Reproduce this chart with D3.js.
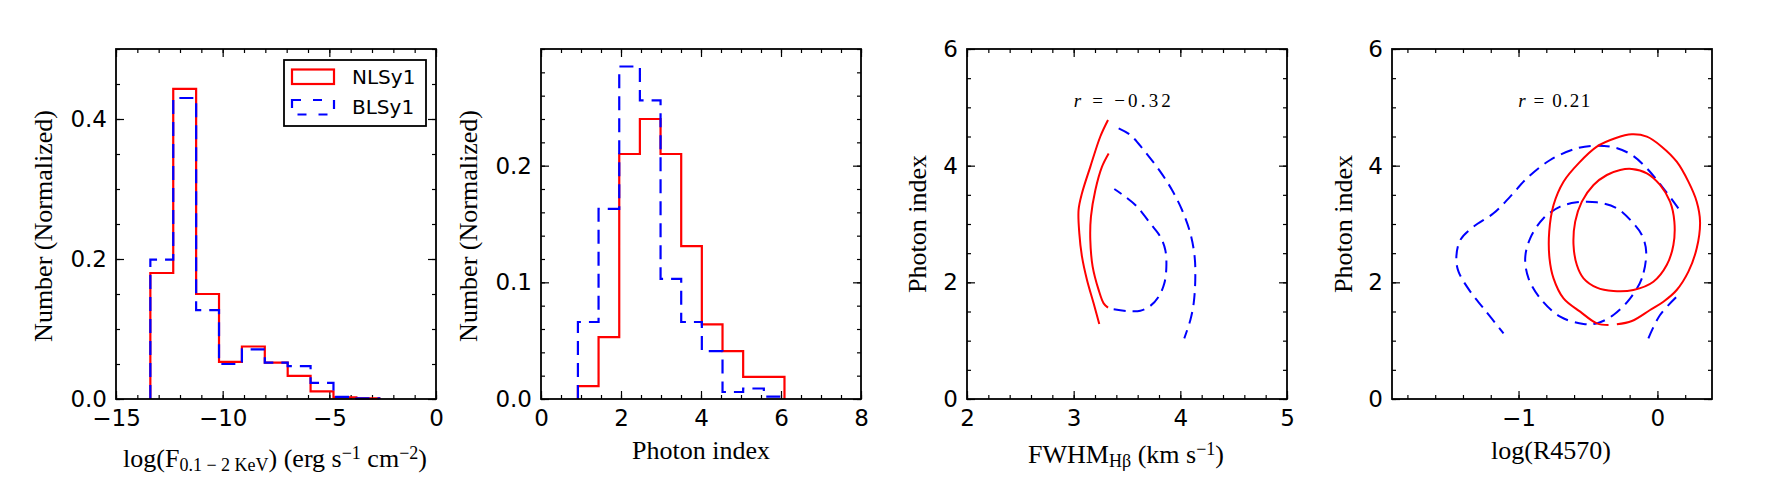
<!DOCTYPE html>
<html><head><meta charset="utf-8">
<script src="https://cdn.jsdelivr.net/npm/d3@7"></script>
<style>
body{margin:0;background:#fff;}
svg{display:block;}
</style></head><body>
<svg id="chart" width="1770" height="497"></svg>
<script>
// ---------------- data ----------------
// Panel 1: soft X-ray flux histogram
const fluxEdges = [-13.39, -12.317, -11.244, -10.171, -9.098, -8.025, -6.952, -5.879, -4.806, -3.733, -2.66];
const fluxNLSy1 = [0.180, 0.443, 0.150, 0.053, 0.075, 0.052, 0.033, 0.011, 0.0024, 0.0008];
const fluxBLSy1 = [0.199, 0.430, 0.127, 0.050, 0.071, 0.052, 0.047, 0.023, 0.003, 0.0008];
// Panel 2: photon index histogram
const photEdges = [0.923, 1.439, 1.956, 2.472, 2.989, 3.505, 4.021, 4.538, 5.054, 5.571, 6.087];
const photNLSy1 = [0.011, 0.053, 0.210, 0.240, 0.210, 0.131, 0.064, 0.041, 0.019, 0.019];
const photBLSy1 = [0.066, 0.163, 0.285, 0.256, 0.103, 0.066, 0.041, 0.006, 0.009, 0.002];
// Panel 3: FWHM vs photon index contours
const fwhmRedOuter = [[3.322,4.783],[3.25,4.50],[3.156,3.98],[3.078,3.526],[3.046,3.24],[3.053,2.84],[3.078,2.44],[3.125,2.04],[3.187,1.64],[3.24,1.286]];
const fwhmRedInner = [[3.328,4.21],[3.265,3.98],[3.203,3.58],[3.162,3.125],[3.156,2.726],[3.178,2.27],[3.234,1.87],[3.281,1.64],[3.322,1.566]];
const fwhmBlueInner = [[3.375,1.537],[3.5,1.509],[3.625,1.514],[3.718,1.594],[3.797,1.754],[3.85,1.983],[3.869,2.268],[3.859,2.554],[3.812,2.783],[3.718,3.01],[3.594,3.297],[3.484,3.468],[3.381,3.6]];
const fwhmBlueOuter = [[3.422,4.64],[3.531,4.526],[3.656,4.27],[3.812,3.897],[3.922,3.583],[4.016,3.24],[4.094,2.84],[4.134,2.44],[4.14,2.04],[4.125,1.64],[4.094,1.354],[4.037,1.04]];
// Panel 4: log(R4570) vs photon index contours
const rRedOuter = [[-0.292,1.28],[-0.184,1.337],[-0.053,1.526],[0.043,1.668],[0.139,1.869],[0.223,2.183],[0.283,2.583],[0.307,3.04],[0.283,3.383],[0.223,3.726],[0.139,4.068],[0.031,4.326],[-0.076,4.497],[-0.184,4.537],[-0.304,4.469],[-0.436,4.326],[-0.568,4.04],[-0.676,3.726],[-0.748,3.326],[-0.779,2.869],[-0.777,2.412],[-0.748,2.069],[-0.676,1.726],[-0.556,1.497],[-0.436,1.297],[-0.352,1.269]];
const rRedInner = [[-0.184,3.943],[-0.076,3.869],[0.019,3.669],[0.091,3.383],[0.122,3.04],[0.115,2.64],[0.067,2.297],[-0.029,2.011],[-0.173,1.869],[-0.317,1.852],[-0.436,1.909],[-0.532,2.069],[-0.58,2.297],[-0.604,2.64],[-0.592,3.04],[-0.544,3.383],[-0.46,3.669],[-0.364,3.84],[-0.268,3.926]];
const rBlueOuter = [[0.151,3.269],[0.043,3.612],[-0.076,3.955],[-0.184,4.183],[-0.304,4.309],[-0.436,4.343],[-0.58,4.297],[-0.772,4.097],[-0.94,3.783],[-1.06,3.469],[-1.18,3.183],[-1.324,2.954],[-1.419,2.726],[-1.448,2.412],[-1.432,2.183],[-1.347,1.84],[-1.252,1.555],[-1.108,1.126]];
const rBlueOuterB = [[-0.065,1.04],[0.019,1.44],[0.151,1.783]];
const rBlueInner = [[-0.081,2.526],[-0.112,2.069],[-0.196,1.726],[-0.317,1.44],[-0.436,1.297],[-0.532,1.286],[-0.7,1.411],[-0.844,1.726],[-0.928,2.069],[-0.952,2.412],[-0.916,2.755],[-0.82,3.098],[-0.7,3.297],[-0.58,3.372],[-0.436,3.372],[-0.292,3.269],[-0.184,3.04],[-0.112,2.812]];
// ticks
const p1XTicks = [-15,-10,-5,0], p1YTicks = [0,0.2,0.4];
const p2XTicks = [0,2,4,6,8], p2YTicks = [0,0.1,0.2];
const p3XTicks = [2,3,4,5], p3YTicks = [0,2,4,6];
const p4XTicks = [-1,0], p4YTicks = [0,2,4,6];
const legendLabels = ["NLSy1","BLSy1"];
const corrLabels = ["r = −0.32","r = 0.21"];

// ---------------- layout ----------------
const RED = "#ff0000", BLUE = "#0000ff";
const TOP = 49, PW = 320, PH = 350;
const svg = d3.select("#chart");
svg.append("rect").attr("width",1770).attr("height",497).attr("fill","#fff");

function panel(cfg){
  const g = svg.append("g").attr("transform",`translate(${cfg.left},${TOP})`);
  const x = d3.scaleLinear().domain(cfg.xDomain).range([0,PW]);
  const y = d3.scaleLinear().domain(cfg.yDomain).range([PH,0]);
  const ax = [];
  ax.push(g.append("g").attr("transform",`translate(0,${PH})`).call(d3.axisBottom(x).tickValues(cfg.xMajor).tickFormat(cfg.xFmt).tickSizeInner(-8).tickSizeOuter(0).tickPadding(11)));
  ax.push(g.append("g").attr("transform",`translate(0,${PH})`).call(d3.axisBottom(x).tickValues(cfg.xMinor).tickFormat("").tickSizeInner(-4).tickSizeOuter(0)));
  ax.push(g.append("g").call(d3.axisTop(x).tickValues(cfg.xMajor).tickFormat("").tickSizeInner(-8).tickSizeOuter(0)));
  ax.push(g.append("g").call(d3.axisTop(x).tickValues(cfg.xMinor).tickFormat("").tickSizeInner(-4).tickSizeOuter(0)));
  ax.push(g.append("g").call(d3.axisLeft(y).tickValues(cfg.yMajor).tickFormat(cfg.yFmt).tickSizeInner(-8).tickSizeOuter(0).tickPadding(9)));
  ax.push(g.append("g").call(d3.axisLeft(y).tickValues(cfg.yMinor).tickFormat("").tickSizeInner(-4).tickSizeOuter(0)));
  ax.push(g.append("g").attr("transform",`translate(${PW},0)`).call(d3.axisRight(y).tickValues(cfg.yMajor).tickFormat("").tickSizeInner(-8).tickSizeOuter(0)));
  ax.push(g.append("g").attr("transform",`translate(${PW},0)`).call(d3.axisRight(y).tickValues(cfg.yMinor).tickFormat("").tickSizeInner(-4).tickSizeOuter(0)));
  g.selectAll(".domain").remove();
  g.selectAll(".tick line").attr("stroke","#000").attr("stroke-width",1.2);
  g.selectAll(".tick text").attr("font-family","DejaVu Sans").attr("font-size",23).attr("fill","#000");
  const content = g.append("g");
  g.append("rect").attr("width",PW).attr("height",PH).attr("fill","none").attr("stroke","#000").attr("stroke-width",1.8);
  return {g, content, x, y};
}

function stepLine(edges, vals, x, y){
  const pts = [[edges[0],0]];
  vals.forEach((v,i)=>{ pts.push([edges[i],v]); pts.push([edges[i+1],v]); });
  pts.push([edges[edges.length-1],0]);
  return d3.line().x(d=>x(d[0])).y(d=>y(d[1]))(pts);
}

const fmtInt = d3.format("d"), fmt1 = d3.format(".1f");
const rng = (a,b,s)=>d3.range(0,Math.round((b-a)/s)+1).map(i=>+(a+i*s).toFixed(4));

// Panel 1
const P1 = panel({left:116, xDomain:[-15,0], yDomain:[0,0.5], xMajor:p1XTicks, xMinor:rng(-15,0,1), yMajor:p1YTicks, yMinor:rng(0,0.5,0.05), xFmt:fmtInt, yFmt:fmt1});
P1.content.append("path").attr("d",stepLine(fluxEdges,fluxNLSy1,P1.x,P1.y)).attr("fill","none").attr("stroke",RED).attr("stroke-width",2.2);
P1.content.append("path").attr("d",stepLine(fluxEdges,fluxBLSy1,P1.x,P1.y)).attr("fill","none").attr("stroke",BLUE).attr("stroke-width",2.2).attr("stroke-dasharray","14,8");

// Panel 2
const P2 = panel({left:541, xDomain:[0,8], yDomain:[0,0.3], xMajor:p2XTicks, xMinor:rng(0,8,0.5), yMajor:p2YTicks, yMinor:rng(0,0.3,0.02), xFmt:fmtInt, yFmt:fmt1});
P2.content.append("path").attr("d",stepLine(photEdges,photNLSy1,P2.x,P2.y)).attr("fill","none").attr("stroke",RED).attr("stroke-width",2.2);
P2.content.append("path").attr("d",stepLine(photEdges,photBLSy1,P2.x,P2.y)).attr("fill","none").attr("stroke",BLUE).attr("stroke-width",2.2).attr("stroke-dasharray","14,8");

// Panel 3
const P3 = panel({left:967, xDomain:[2,5], yDomain:[0,6], xMajor:p3XTicks, xMinor:rng(2,5,0.2), yMajor:p3YTicks, yMinor:rng(0,6,0.5), xFmt:fmtInt, yFmt:fmtInt});
function contour(P, pts, color, dashed, closed){
  const line = d3.line().x(d=>P.x(d[0])).y(d=>P.y(d[1])).curve(closed? d3.curveCatmullRomClosed.alpha(0.5) : d3.curveCatmullRom.alpha(0.5));
  const p = P.content.append("path").attr("d",line(pts)).attr("fill","none").attr("stroke",color).attr("stroke-width",2);
  if (dashed) p.attr("stroke-dasharray","12,7");
}
contour(P3, fwhmRedOuter, RED, false, false);
contour(P3, fwhmRedInner, RED, false, false);
contour(P3, fwhmBlueInner, BLUE, true, false);
contour(P3, fwhmBlueOuter, BLUE, true, false);

// Panel 4
const P4 = panel({left:1392, xDomain:[-1.911,0.393], yDomain:[0,6], xMajor:p4XTicks, xMinor:rng(-1.8,0.2,0.2), yMajor:p4YTicks, yMinor:rng(0,6,0.5), xFmt:fmtInt, yFmt:fmtInt});
contour(P4, rBlueOuter, BLUE, true, false);
contour(P4, rBlueOuterB, BLUE, true, false);
contour(P4, rBlueInner, BLUE, true, true);
contour(P4, rRedOuter, RED, false, false);
contour(P4, rRedInner, RED, false, true);

// correlation labels
function corr(P, txt, xv, yv, len){
  const t = P.g.append("text").attr("x",P.x(xv)).attr("y",P.y(yv)).attr("text-anchor","middle")
    .attr("font-family","Liberation Serif").attr("font-size",19).attr("fill","#000")
    .attr("textLength",len).attr("lengthAdjust","spacing");
  t.append("tspan").attr("font-style","italic").text(txt[0]);
  t.append("tspan").text(txt.slice(1));
}
corr(P3, corrLabels[0], 3.456, 5.0, 97);
corr(P4, corrLabels[1], -0.743, 5.0, 72);

// legend
const lg = svg.append("g");
lg.append("rect").attr("x",284).attr("y",60).attr("width",142).attr("height",66).attr("fill","#fff").attr("stroke","#000").attr("stroke-width",1.8);
lg.append("rect").attr("x",292).attr("y",69.5).attr("width",42).attr("height",14.5).attr("fill","none").attr("stroke",RED).attr("stroke-width",2.2);
lg.append("rect").attr("x",292).attr("y",100).attr("width",42).attr("height",14.5).attr("fill","none").attr("stroke",BLUE).attr("stroke-width",2.2).attr("stroke-dasharray","9,12");
lg.selectAll("text.lab").data(legendLabels).enter().append("text").attr("class","lab")
  .attr("x",352).attr("y",(d,i)=>84+i*30.3).attr("font-family","DejaVu Sans").attr("font-size",20).attr("fill","#000").text(d=>d);

// axis labels
const SERIF = "Liberation Serif", FS = 26, SFS = 18;
function ylab(cx, cy, txt){
  svg.append("text").attr("transform",`translate(${cx},${cy}) rotate(-90)`).attr("text-anchor","middle")
    .attr("font-family",SERIF).attr("font-size",FS).attr("fill","#000").text(txt);
}
ylab(52, 226, "Number (Normalized)");
ylab(477, 226, "Number (Normalized)");
ylab(926, 224, "Photon index");
ylab(1352, 224, "Photon index");

function xlabParts(cx, by, parts){
  const t = svg.append("text").attr("x",cx).attr("y",by).attr("text-anchor","middle")
    .attr("font-family",SERIF).attr("font-size",FS).attr("fill","#000");
  parts.forEach(p=>{
    const s = t.append("tspan").text(p.t);
    if (p.sub) s.attr("font-size",SFS).attr("baseline-shift","-22%");
    if (p.sup) s.attr("font-size",SFS).attr("baseline-shift","45%");
  });
}
xlabParts(275, 467, [{t:"log(F"},{t:"0.1 − 2 KeV",sub:true},{t:") (erg s"},{t:"−1",sup:true},{t:" cm"},{t:"−2",sup:true},{t:")"}]);
xlabParts(701, 459, [{t:"Photon index"}]);
xlabParts(1126, 463, [{t:"FWHM"},{t:"Hβ",sub:true},{t:" (km s"},{t:"−1",sup:true},{t:")"}]);
xlabParts(1551, 459, [{t:"log(R4570)"}]);
</script>
</body></html>
